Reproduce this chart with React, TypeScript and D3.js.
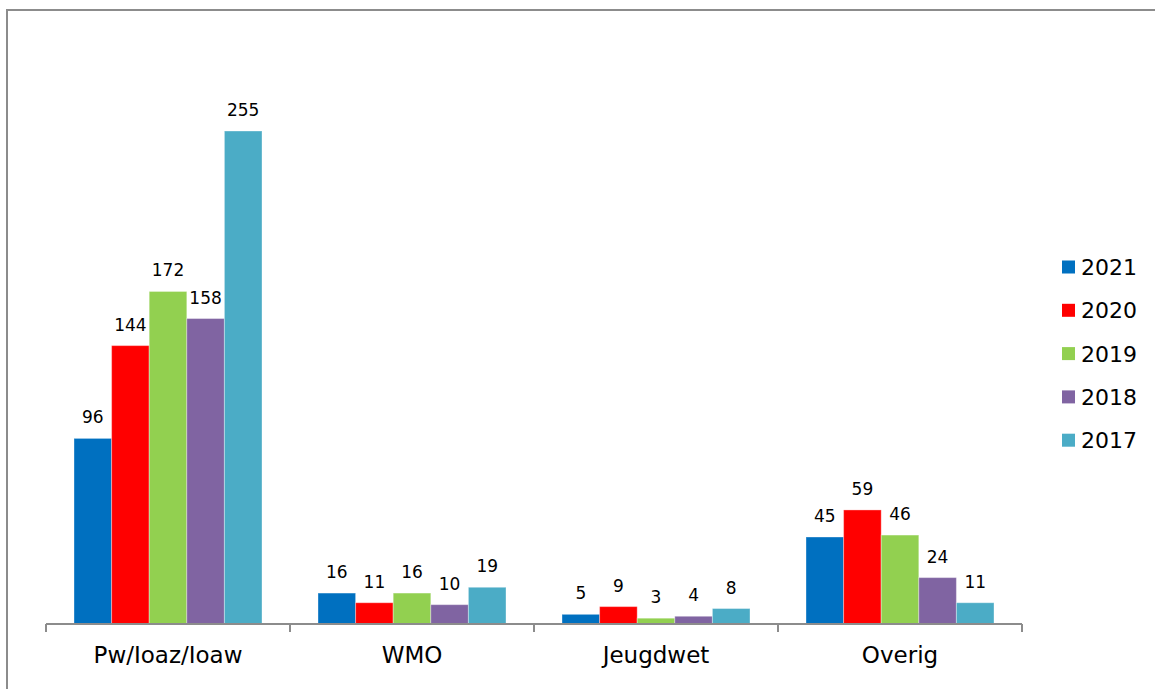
import React from "react";
import * as d3 from "d3";

const categories = ["Pw/Ioaz/Ioaw", "WMO", "Jeugdwet", "Overig"];
const seriesNames = ["2021", "2020", "2019", "2018", "2017"];
const seriesColors = ["#0070C0", "#FF0000", "#92D050", "#8064A2", "#4BACC6"];
const values2021 = [96, 16, 5, 45];
const values2020 = [144, 11, 9, 59];
const values2019 = [172, 16, 3, 46];
const values2018 = [158, 10, 4, 24];
const values2017 = [255, 19, 8, 11];
const seriesValues = [values2021, values2020, values2019, values2018, values2017];

const W = 1155;
const H = 689;
const FONT = "'DejaVu Sans', Verdana, sans-serif";

export default function App() {
  const x0 = d3.scaleBand<string>().domain(categories).range([46, 1022]).padding(0);
  const bw = x0.bandwidth();
  const x1 = d3
    .scaleBand<string>()
    .domain(seriesNames)
    .range([28, bw - 28])
    .padding(0);
  const baseY = 624;
  const y = d3.scaleLinear().domain([0, 300]).range([baseY, baseY - 300 * 1.9333]);
  const ticks = [...categories.map((c) => x0(c) as number), 1022];

  return (
    <svg
      width={W}
      height={H}
      style={{ position: "absolute", left: 0, top: 0, background: "#fff" }}
      fontFamily={FONT}
    >
      <rect x={0} y={0} width={W} height={H} fill="#fff" />
      <rect x={7} y={10} width={1300} height={800} fill="none" stroke="#8c8c8c" strokeWidth={2} />
      {categories.map((c, ci) => (
        <g key={c} transform={`translate(${x0(c)},0)`}>
          {seriesNames.map((s, si) => {
            const v = seriesValues[si][ci];
            const bx = x1(s) as number;
            const by = y(v);
            return (
              <g key={s}>
                <rect
                  x={bx}
                  y={by}
                  width={x1.bandwidth()}
                  height={baseY - by}
                  fill={seriesColors[si]}
                  stroke="#ffffff"
                  strokeOpacity={0.35}
                  strokeWidth={1}
                />
                <text
                  x={bx + x1.bandwidth() / 2}
                  y={by - 15}
                  textAnchor="middle"
                  fontSize={17}
                  fill="#000"
                >
                  {v}
                </text>
              </g>
            );
          })}
          <text x={bw / 2} y={663} textAnchor="middle" fontSize={23} fill="#000">
            {c}
          </text>
        </g>
      ))}
      <line x1={46} x2={1022} y1={baseY} y2={baseY} stroke="#8c8c8c" strokeWidth={2} />
      {ticks.map((t, i) => (
        <line key={i} x1={t} x2={t} y1={baseY} y2={632} stroke="#8c8c8c" strokeWidth={2} />
      ))}
      {seriesNames.map((s, si) => (
        <g key={s} transform={`translate(1062,${267 + si * 43.3})`}>
          <rect x={0} y={-6.5} width={13} height={13} fill={seriesColors[si]} />
          <text x={19} y={8} fontSize={22} fill="#000">
            {s}
          </text>
        </g>
      ))}
    </svg>
  );
}
